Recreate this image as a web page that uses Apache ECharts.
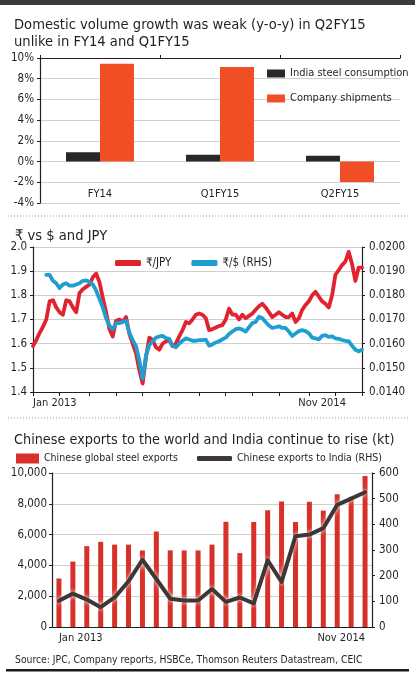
<!DOCTYPE html>
<html>
<head>
<meta charset="utf-8">
<script src="https://cdn.jsdelivr.net/npm/echarts@6/dist/echarts.min.js"></script>
<style>
  html, body { margin: 0; padding: 0; background: #fff; }
  #main { width: 415px; height: 673px; }
</style>
</head>
<body>
<div id="main"></div>
<script>
// panel 1: domestic volume growth (%)
var periods = ['FY14', 'Q1FY15', 'Q2FY15'];
var indiaConsumption = [0.9, 0.67, 0.57];
var companyShipments = [9.45, 9.14, -1.98];

// panel 2: rupee vs yen (LHS) and rupee vs dollar (RHS), roughly weekly
var inrJpy = [
  1.59, 1.615, 1.645, 1.67, 1.70, 1.775, 1.78, 1.75, 1.73, 1.72,
  1.78, 1.775, 1.75, 1.73, 1.81, 1.825, 1.835, 1.845, 1.875, 1.89,
  1.855, 1.79, 1.73, 1.66, 1.63, 1.695, 1.70, 1.69, 1.71, 1.64,
  1.60, 1.56, 1.49, 1.435, 1.545, 1.625, 1.615, 1.585, 1.575, 1.60,
  1.61, 1.615, 1.59, 1.60, 1.63, 1.656, 1.69, 1.684, 1.70, 1.72,
  1.725, 1.72, 1.705, 1.656, 1.66, 1.667, 1.673, 1.677, 1.70, 1.745,
  1.72, 1.72, 1.70, 1.72, 1.705, 1.715, 1.725, 1.74, 1.755, 1.765,
  1.75, 1.73, 1.71, 1.72, 1.73, 1.72, 1.71, 1.71, 1.725, 1.69,
  1.705, 1.74, 1.76, 1.775, 1.80, 1.815, 1.795, 1.775, 1.765, 1.75,
  1.80, 1.885, 1.905, 1.925, 1.94, 1.98, 1.93, 1.86, 1.915, 1.915
];
var inrUsd = [
  null, null, null, null, 0.01885, 0.01885, 0.0186, 0.0185, 0.0183, 0.01845,
  0.0185, 0.0184, 0.0184, 0.01845, 0.0185, 0.0186, 0.01862, 0.01855, 0.01845, 0.0182,
  0.01785, 0.0175, 0.01705, 0.01675, 0.0166, 0.01685, 0.01685, 0.0169, 0.01695, 0.01645,
  0.01615, 0.0159, 0.0153, 0.01455, 0.0155, 0.01595, 0.0161, 0.01625, 0.0163, 0.01632,
  0.01623, 0.0162, 0.0159, 0.01585, 0.016, 0.01612, 0.01622, 0.01617, 0.01612, 0.01612,
  0.01615, 0.01615, 0.01617, 0.01592, 0.01597, 0.01605, 0.0161, 0.01618, 0.01625, 0.0164,
  0.0165, 0.0166, 0.01663, 0.01658, 0.0165, 0.01668, 0.01685, 0.0169, 0.01712, 0.01705,
  0.0169, 0.01675, 0.01665, 0.01668, 0.01672, 0.01665, 0.01665, 0.0165, 0.01632, 0.01642,
  0.01652, 0.01656, 0.01652, 0.01643, 0.01625, 0.01622, 0.01618, 0.01632, 0.01635, 0.01628,
  0.0163, 0.01622, 0.0162, 0.01615, 0.01612, 0.0161, 0.01592, 0.01575, 0.01568, 0.01575
];
var fxTicks = [0, 8, 17, 25, 33, 41, 50, 58, 66, 74, 83, 91, 99];
var fxTickLabels = { 0: 'Jan 2013', 87: 'Nov 2014' };

// panel 3: Chinese steel exports (kt)
var exportMonths = [
  'Jan 2013', 'Feb 2013', 'Mar 2013', 'Apr 2013', 'May 2013', 'Jun 2013',
  'Jul 2013', 'Aug 2013', 'Sep 2013', 'Oct 2013', 'Nov 2013', 'Dec 2013',
  'Jan 2014', 'Feb 2014', 'Mar 2014', 'Apr 2014', 'May 2014', 'Jun 2014',
  'Jul 2014', 'Aug 2014', 'Sep 2014', 'Oct 2014', 'Nov 2014'
];
var globalExports = [
  3150, 4250, 5250, 5530, 5350, 5350, 4970, 6200, 4980, 4970, 4970, 5350,
  6830, 4800, 6820, 7580, 8150, 6820, 8130, 7560, 8620, 8450, 9800
];
var indiaExports = [
  102, 130, 107, 77, 115, 178, 262, 187, 110, 103, 103, 148,
  98, 115, 92, 260, 176, 354, 360, 385, 476, 500, 525
];

var fxWeeks = [];
var d0 = new Date(2013, 0, 1);
for (var i = 0; i < inrJpy.length; i++) {
  var d = new Date(d0.getTime() + i * 7.3 * 86400000);
  fxWeeks.push(d.getFullYear() + '-' + (d.getMonth() + 1) + '-' + d.getDate());
}

var FONT = "'DejaVu Sans Condensed'";
var INK = '#231f20';
var GRIDC = '#cfcfcf';

function axisText(size) {
  return { color: INK, fontSize: size || 11.5, fontFamily: FONT };
}
function titleText(size) {
  return { fontSize: size, fontWeight: 'normal', color: INK, fontFamily: FONT };
}

var myChart = echarts.init(document.getElementById('main'));

var option = {
  backgroundColor: '#fff',
  animation: false,
  textStyle: { fontFamily: FONT },
  title: [
    {
      text: 'Domestic volume growth was weak (y-o-y) in Q2FY15\nunlike in FY14 and Q1FY15',
      left: 9, top: 12,
      textStyle: Object.assign(titleText(14.6), { lineHeight: 17 })
    },
    { text: '₹ vs $ and JPY', left: 10, top: 224, textStyle: titleText(14.6) },
    {
      text: 'Chinese exports to the world and India continue to rise (kt)',
      left: 9, top: 428, textStyle: titleText(14.3)
    },
    {
      text: 'Source: JPC, Company reports, HSBCe, Thomson Reuters Datastream, CEIC',
      left: 10, top: 650, textStyle: titleText(10.3)
    }
  ],
  legend: [
    {
      data: ['India steel consumption', 'Company shipments'],
      orient: 'vertical', left: 262, top: 63,
      itemWidth: 18, itemHeight: 8, itemGap: 14,
      icon: 'rect',
      textStyle: axisText(11)
    },
    {
      data: ['₹/JPY', '₹/$ (RHS)'],
      left: 110, top: 252,
      itemWidth: 26, itemHeight: 6, itemGap: 20,
      icon: 'roundRect',
      textStyle: axisText(11.5)
    },
    {
      data: ['Chinese global steel exports'],
      left: 11, top: 448,
      itemWidth: 23, itemHeight: 10,
      icon: 'rect',
      textStyle: axisText(10.5)
    },
    {
      data: ['Chinese exports to India (RHS)'],
      left: 192, top: 448,
      itemWidth: 35, itemHeight: 5,
      icon: 'roundRect',
      textStyle: axisText(10.5)
    }
  ],
  grid: [
    { left: 40, right: 15, top: 58, height: 145 },
    { left: 33, right: 53, top: 247, height: 145 },
    { left: 52, right: 43, top: 473, height: 154 }
  ],
  xAxis: [
    {
      gridIndex: 0, type: 'category', data: periods,
      axisLine: { show: false }, axisTick: { show: false },
      axisLabel: Object.assign(axisText(11), { margin: -14 })
    },
    {
      gridIndex: 0, type: 'category', data: periods,
      axisLine: { onZero: true, lineStyle: { color: INK, width: 1.2 } },
      axisTick: { show: true, length: 3, inside: false, lineStyle: { color: INK } },
      axisLabel: { show: false }
    },
    {
      gridIndex: 1, type: 'category', data: fxWeeks, boundaryGap: false,
      axisLine: { lineStyle: { color: INK, width: 1.2 } },
      axisTick: {
        length: 4, lineStyle: { color: INK },
        interval: function (idx) { return fxTicks.indexOf(idx) >= 0; }
      },
      axisLabel: Object.assign(axisText(11), {
        margin: 6,
        alignMinLabel: 'left',
        interval: function (idx) { return fxTickLabels[idx] !== undefined; },
        formatter: function (v, idx) { return fxTickLabels[idx] || ''; }
      })
    },
    {
      gridIndex: 2, type: 'category', data: exportMonths,
      axisLine: { lineStyle: { color: INK, width: 1.2 } },
      axisTick: { length: 4, interval: 1, lineStyle: { color: INK } },
      axisLabel: Object.assign(axisText(11), {
        margin: 6,
        alignMinLabel: 'left',
        alignMaxLabel: 'right',
        interval: function (idx) { return idx === 0 || idx === exportMonths.length - 1; }
      })
    }
  ],
  yAxis: [
    {
      gridIndex: 0, type: 'value', min: -4, max: 10, interval: 2,
      axisLine: { show: true, lineStyle: { color: INK, width: 1.2 } },
      axisTick: { show: true, length: 3, lineStyle: { color: INK } },
      splitLine: { lineStyle: { color: GRIDC } },
      axisLabel: Object.assign(axisText(11.5), { margin: 6, formatter: '{value}%' })
    },
    {
      gridIndex: 1, type: 'value', min: 1.4, max: 2.0, interval: 0.1,
      axisLine: { show: true, lineStyle: { color: INK, width: 1.2 } },
      axisTick: { show: true, length: 3, lineStyle: { color: INK } },
      splitLine: { lineStyle: { color: GRIDC } },
      axisLabel: Object.assign(axisText(11.5), {
        margin: 6, formatter: function (v) { return v.toFixed(1); }
      })
    },
    {
      gridIndex: 1, type: 'value', position: 'right', min: 0.014, max: 0.02, interval: 0.001,
      axisLine: { show: true, lineStyle: { color: INK, width: 1.2 } },
      axisTick: { show: true, length: 3, lineStyle: { color: INK } },
      splitLine: { show: false },
      axisLabel: Object.assign(axisText(11.5), {
        margin: 7, formatter: function (v) { return v.toFixed(4); }
      })
    },
    {
      gridIndex: 2, type: 'value', min: 0, max: 10000, interval: 2000,
      axisLine: { show: true, lineStyle: { color: INK, width: 1.2 } },
      axisTick: { show: true, length: 3, lineStyle: { color: INK } },
      splitLine: { lineStyle: { color: GRIDC } },
      axisLabel: Object.assign(axisText(11.5), {
        margin: 5, formatter: function (v) { return v.toLocaleString('en-US'); }
      })
    },
    {
      gridIndex: 2, type: 'value', position: 'right', min: 0, max: 600, interval: 100,
      axisLine: { show: true, lineStyle: { color: INK, width: 1.2 } },
      axisTick: { show: true, length: 3, lineStyle: { color: INK } },
      splitLine: { show: false },
      axisLabel: Object.assign(axisText(11.5), { margin: 7 })
    }
  ],
  series: [
    {
      name: 'India steel consumption', type: 'bar',
      xAxisIndex: 0, yAxisIndex: 0,
      data: indiaConsumption, barWidth: 34, barGap: '0%',
      itemStyle: { color: '#2b2627' }
    },
    {
      name: 'Company shipments', type: 'bar',
      xAxisIndex: 0, yAxisIndex: 0,
      data: companyShipments, barWidth: 34, barGap: '0%',
      itemStyle: { color: '#f04e25' }
    },
    {
      name: '₹/JPY', type: 'line',
      xAxisIndex: 2, yAxisIndex: 1,
      data: inrJpy, showSymbol: false, smooth: false,
      itemStyle: { color: '#e1222f' },
      lineStyle: { color: '#e1222f', width: 3.8, cap: 'round', join: 'round' },
      z: 3
    },
    {
      name: '₹/$ (RHS)', type: 'line',
      xAxisIndex: 2, yAxisIndex: 2,
      data: inrUsd, showSymbol: false, smooth: false,
      itemStyle: { color: '#1f9fd0' },
      lineStyle: { color: '#1f9fd0', width: 3.8, cap: 'round', join: 'round' },
      z: 4
    },
    {
      name: 'Chinese global steel exports', type: 'bar',
      xAxisIndex: 3, yAxisIndex: 3,
      data: globalExports, barWidth: 5,
      itemStyle: { color: '#d7312a' }
    },
    {
      name: 'Chinese exports to India (RHS)', type: 'line',
      xAxisIndex: 3, yAxisIndex: 4,
      data: indiaExports, showSymbol: false,
      itemStyle: { color: '#3e3736' },
      lineStyle: {
        color: '#3e3736', width: 4, join: 'round', cap: 'round',
        shadowColor: '#ffffff', shadowBlur: 4
      },
      z: 5
    }
  ],
  graphic: [
    { type: 'rect', shape: { x: 0, y: 0, width: 415, height: 5 }, style: { fill: '#3b3b3b' } },
    {
      type: 'line', shape: { x1: 8, y1: 216, x2: 408, y2: 216 },
      style: { stroke: '#9a9a9a', lineWidth: 1, lineDash: [1, 2] }
    },
    {
      type: 'line', shape: { x1: 8, y1: 418, x2: 408, y2: 418 },
      style: { stroke: '#9a9a9a', lineWidth: 1, lineDash: [1, 2] }
    },
    { type: 'rect', shape: { x: 6, y: 669, width: 403, height: 2.5 }, style: { fill: '#1d1a1a' } }
  ]
};

myChart.setOption(option);
window.onresize = function () {
  myChart.resize();
};
</script>
</body>
</html>
